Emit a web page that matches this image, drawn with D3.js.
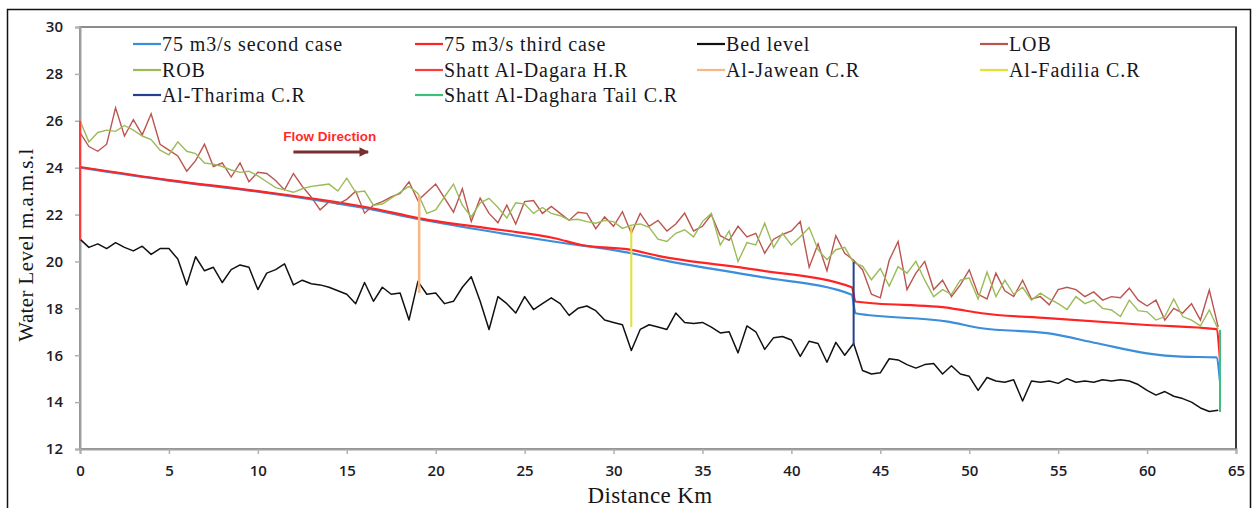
<!DOCTYPE html>
<html>
<head>
<meta charset="utf-8">
<script src="https://cdn.jsdelivr.net/npm/d3@7"></script>
<style>
  body { margin: 0; background: #fff; }
  svg { display: block; }
</style>
</head>
<body>
<div id="main"></div>
<script>
///////////
// DATA  //
///////////

// survey stations every 0.5 km (0 .. 64)
const stationKm = d3.range(0, 64.01, 0.5)

const bedLevel = [
  20.95, 20.6, 20.75, 20.55, 20.8, 20.6, 20.45, 20.65, 20.3, 20.55,
  20.55, 20.1, 19.0, 20.2, 19.6, 19.75, 19.1, 19.65, 19.85, 19.75,
  18.8, 19.5, 19.65, 19.9, 19.0, 19.2, 19.05, 19.0, 18.9, 18.75,
  18.6, 18.2, 19.1, 18.3, 18.9, 18.6, 18.65, 17.5, 19.15, 18.6,
  18.65, 18.2, 18.3, 18.9, 19.35, 18.3, 17.1, 18.5, 18.2, 17.8,
  18.5, 17.95, 18.2, 18.45, 18.2, 17.7, 18.0, 18.1, 17.9, 17.5,
  17.4, 17.3, 16.2, 17.1, 17.3, 17.2, 17.1, 17.8, 17.4, 17.35,
  17.4, 17.2, 16.95, 17.0, 16.1, 17.25, 17.0, 16.25, 16.75, 16.8,
  16.65, 15.95, 16.6, 16.5, 15.7, 16.55, 16.0, 16.5, 15.35, 15.2,
  15.25, 15.85, 15.8, 15.6, 15.45, 15.6, 15.65, 15.2, 15.55, 15.2,
  15.1, 14.5, 15.05, 14.9, 14.85, 14.95, 14.05, 14.9, 14.85, 14.9,
  14.8, 15.0, 14.85, 14.9, 14.85, 14.95, 14.9, 14.95, 14.9, 14.75,
  14.5, 14.3, 14.45, 14.25, 14.15, 14.0, 13.75, 13.6, 13.65
]

const lobLevel = [
  25.5, 24.9, 24.7, 25.0, 26.55, 25.35, 26.05, 25.4, 26.3, 25.0,
  24.75, 24.5, 23.85, 24.3, 25.0, 24.05, 24.2, 23.6, 24.2, 23.4,
  23.8, 23.75, 23.45, 23.05, 23.75, 23.2, 22.75, 22.2, 22.55, 22.45,
  22.65, 23.0, 22.06, 22.4, 22.55, 22.75, 22.9, 23.4, 22.6, 22.95,
  23.3, 22.7, 22.1, 23.1, 21.7, 22.7, 22.05, 21.65, 22.4, 21.6,
  22.55, 22.6, 22.05, 22.35, 22.05, 21.75, 22.1, 22.05, 21.4, 21.9,
  21.5, 22.12, 21.2, 22.05, 21.5, 21.75, 21.3, 21.6, 22.06, 21.3,
  21.5, 22.0, 21.1, 20.9, 21.5, 21.05, 21.2, 20.35, 20.95, 21.15,
  21.3, 21.7, 19.75, 20.75, 19.6, 21.1, 20.35, 20.05, 19.65, 18.6,
  18.45, 20.05, 20.85, 18.8, 19.5, 20.0, 18.8, 19.2, 18.5, 19.0,
  19.64, 18.6, 18.4, 19.5, 18.75, 18.5, 19.2, 18.4, 18.5, 18.15,
  18.8, 18.9, 18.8, 18.5, 18.7, 18.35, 18.5, 18.45, 18.86, 18.35,
  18.1, 18.35, 17.5, 18.0, 17.8, 18.2, 17.5, 18.78, 17.2
]

const robLevel = [
  26.0, 25.1, 25.5, 25.6, 25.55, 25.8, 25.6, 25.35, 25.2, 24.75,
  24.55, 25.1, 24.7, 24.6, 24.2, 24.15, 24.05, 23.9, 23.8, 23.85,
  23.65, 23.4, 23.15, 23.05, 22.95, 23.1, 23.2, 23.25, 23.3, 23.0,
  23.55, 22.95, 23.0, 22.4, 22.45, 22.7, 22.95, 23.2, 22.9, 22.05,
  22.2, 22.76, 23.3, 22.4, 21.9, 22.5, 22.69, 22.3, 21.85, 22.5,
  22.45, 22.05, 22.3, 22.05, 21.95, 21.77, 21.8, 21.7, 21.63, 21.75,
  21.7, 21.41, 21.55, 21.6, 21.45, 20.95, 20.85, 21.2, 21.35, 21.05,
  21.7, 22.05, 20.7, 21.3, 20.0, 20.8, 20.7, 21.63, 20.6, 21.2,
  20.7, 21.05, 21.45, 20.5, 20.07, 20.5, 20.6, 19.95, 19.8, 19.22,
  19.7, 18.95, 19.78, 19.5, 20.0, 19.2, 18.5, 18.8, 18.6, 19.2,
  19.3, 18.4, 19.55, 18.5, 19.2, 18.6, 18.9, 18.35, 18.65, 18.4,
  18.2, 17.95, 18.5, 18.2, 18.35, 18.0, 17.93, 17.65, 18.35, 17.9,
  17.85, 17.5, 17.65, 18.4, 17.65, 17.5, 17.25, 17.93, 17.1
]

// computed water surfaces
const secondKm = [0, 5, 10, 16.2, 19.1, 23.7, 26.7, 31, 32.5, 38.1, 43.4, 43.6, 48.8, 50.7, 54.4, 57.2, 60, 61.9, 63.9, 64.1]
const secondWL = [24.0, 23.45, 22.98, 22.25, 21.8, 21.2, 20.84, 20.35, 20.1, 19.36, 18.58, 17.79, 17.43, 17.15, 16.94, 16.51, 16.08, 15.94, 15.91, 14.88]

const thirdKm = [0, 5, 10, 16.2, 19.1, 23.7, 26.7, 28.2, 31, 32.5, 38.1, 43.4, 43.6, 49, 50.7, 54.4, 60, 63.9, 64.1]
const thirdWL = [24.03, 23.47, 23.0, 22.3, 21.84, 21.34, 20.99, 20.7, 20.49, 20.24, 19.64, 18.9, 18.29, 18.0, 17.79, 17.58, 17.29, 17.11, 15.8]

// regulators: station, bottom, top
const structNames = ["Shatt Al-Dagara H.R", "Al-Jawean C.R", "Al-Fadilia C.R", "Al-Tharima C.R", "Shatt Al-Daghara Tail C.R"]
const structKm = [0, 19.07, 31.0, 43.5, 64.1]
const structLow = [20.9, 18.66, 17.2, 16.44, 13.58]
const structHigh = [26.0, 22.84, 21.5, 19.98, 17.08]

const legendNames = [
  "75 m3/s second case", "75 m3/s third case", "Bed level", "LOB",
  "ROB", "Shatt Al-Dagara H.R", "Al-Jawean C.R", "Al-Fadilia C.R",
  "Al-Tharima C.R", "Shatt Al-Daghara Tail C.R"
]

const xTicks = d3.range(0, 66, 5)
const yTicks = d3.range(12, 31, 2)

///////////
// SETUP //
///////////

const width = 1252
const height = 508

const colors = {
  "75 m3/s second case": "#3a8edb",
  "75 m3/s third case": "#ff2424",
  "Bed level": "#111111",
  "LOB": "#bb5550",
  "ROB": "#9bbb59",
  "Shatt Al-Dagara H.R": "#ff3a3a",
  "Al-Jawean C.R": "#f6b888",
  "Al-Fadilia C.R": "#e2e232",
  "Al-Tharima C.R": "#25408f",
  "Shatt Al-Daghara Tail C.R": "#3cbf7a"
}

let x = d3.scaleLinear().domain([0, 65]).range([80, 1236])
let y = d3.scaleLinear().domain([12, 30]).range([449, 27])

let line = d3.line()
  .x(d => x(d[0]))
  .y(d => y(d[1]))

let smooth = d3.line()
  .x(d => x(d[0]))
  .y(d => y(d[1]))
  .curve(d3.curveMonotoneX)

//////////
// DRAW //
//////////

let svg = d3.select("#main").append("svg")
  .attr("width", width)
  .attr("height", height)

// outer frame
svg.append("path")
  .attr("d", "M7.5,508 V9.5 H1250.5 V508")
  .attr("fill", "none")
  .attr("stroke", "#111")
  .attr("stroke-width", 1.5)

// plot frame
svg.append("rect")
  .attr("x", x(0)).attr("y", y(30))
  .attr("width", x(65) - x(0)).attr("height", y(12) - y(30))
  .attr("fill", "none")
  .attr("stroke", "#8c8c8c")
  .attr("stroke-width", 2)
svg.append("line")
  .attr("x1", x(65)).attr("x2", x(65))
  .attr("y1", y(30)).attr("y2", y(12))
  .attr("stroke", "#3a3a3a")
  .attr("stroke-width", 2)

// axes
let yAxis = svg.append("g")
  .attr("transform", `translate(${x(0)},0)`)
  .call(d3.axisLeft(y).tickValues(yTicks).tickSize(5).tickPadding(12))
let xAxis = svg.append("g")
  .attr("transform", `translate(0,${y(12)})`)
  .call(d3.axisBottom(x).tickValues(xTicks).tickSize(5).tickPadding(11))

for (let ax of [yAxis, xAxis]) {
  ax.select(".domain").attr("stroke", "#a0a0a0").attr("stroke-width", 2)
  ax.selectAll(".tick line").attr("stroke", "#b0b0b0").attr("stroke-width", 1.5)
  ax.selectAll(".tick text")
    .attr("fill", "#1c1c28")
    .style("font-family", "'Open Sans', sans-serif")
    .style("font-size", "15px")
    .style("font-weight", "600")
}

// series
svg.append("path")
  .datum(d3.zip(secondKm, secondWL))
  .attr("d", smooth)
  .attr("fill", "none")
  .attr("stroke", colors["75 m3/s second case"])
  .attr("stroke-width", 2.2)

svg.append("path")
  .datum(d3.zip(thirdKm, thirdWL))
  .attr("d", smooth)
  .attr("fill", "none")
  .attr("stroke", colors["75 m3/s third case"])
  .attr("stroke-width", 2.2)

svg.append("path")
  .datum(d3.zip(stationKm, bedLevel))
  .attr("d", line)
  .attr("fill", "none")
  .attr("stroke", colors["Bed level"])
  .attr("stroke-width", 1.5)
  .attr("stroke-linejoin", "round")

svg.append("path")
  .datum(d3.zip(stationKm, lobLevel))
  .attr("d", line)
  .attr("fill", "none")
  .attr("stroke", colors["LOB"])
  .attr("stroke-width", 1.4)

svg.append("path")
  .datum(d3.zip(stationKm, robLevel))
  .attr("d", line)
  .attr("fill", "none")
  .attr("stroke", colors["ROB"])
  .attr("stroke-width", 1.4)

// regulators
svg.selectAll("line.structure")
  .data(structNames)
  .enter().append("line")
    .attr("class", "structure")
    .attr("x1", (d, i) => x(structKm[i]))
    .attr("x2", (d, i) => x(structKm[i]))
    .attr("y1", (d, i) => y(structLow[i]))
    .attr("y2", (d, i) => y(structHigh[i]))
    .attr("stroke", d => colors[d])
    .attr("stroke-width", (d, i) => i == 1 ? 2.6 : 2)

// flow direction note
svg.append("defs").append("marker")
  .attr("id", "head")
  .attr("viewBox", "0 0 10 10")
  .attr("refX", 9).attr("refY", 5)
  .attr("markerWidth", 3.2).attr("markerHeight", 3.2)
  .attr("orient", "auto")
  .append("path")
    .attr("d", "M0,0 L10,5 L0,10 z")
    .attr("fill", "#7a2e2e")

svg.append("line")
  .attr("x1", x(12)).attr("x2", x(16.2))
  .attr("y1", y(24.67)).attr("y2", y(24.67))
  .attr("stroke", "#7a2e2e")
  .attr("stroke-width", 3)
  .attr("marker-end", "url(#head)")

svg.append("text")
  .attr("x", x(14.05)).attr("y", y(25.31))
  .attr("text-anchor", "middle")
  .attr("dominant-baseline", "middle")
  .attr("fill", "#ff2b2b")
  .style("font-family", "'Liberation Sans', Arial, sans-serif")
  .style("font-size", "13.5px")
  .style("font-weight", "bold")
  .text("Flow Direction")

// legend
const legendCols = [133, 415, 697, 980]
const legendRows = [44, 70, 95]

let legend = svg.selectAll("g.legend-item")
  .data(legendNames)
  .enter().append("g")
    .attr("class", "legend-item")
    .attr("transform", (d, i) => `translate(${legendCols[i % 4]},${legendRows[Math.floor(i / 4)]})`)

legend.append("line")
  .attr("x1", 0).attr("x2", 28)
  .attr("stroke", d => colors[d])
  .attr("stroke-width", 2.2)

legend.append("text")
  .attr("x", 29)
  .attr("dy", "0.33em")
  .attr("fill", "#161622")
  .style("font-family", "'Liberation Serif', 'Times New Roman', serif")
  .style("font-size", "20px")
  .style("letter-spacing", "0.9px")
  .text(d => d)

// axis titles
svg.append("text")
  .attr("transform", "translate(33,245) rotate(-90)")
  .attr("text-anchor", "middle")
  .attr("fill", "#161616")
  .style("font-family", "'Liberation Serif', 'Times New Roman', serif")
  .style("font-size", "21px")
  .style("letter-spacing", "0.4px")
  .text("Water Level m.a.m.s.l")

svg.append("text")
  .attr("x", 650).attr("y", 503)
  .attr("text-anchor", "middle")
  .attr("fill", "#161616")
  .style("font-family", "'Liberation Serif', 'Times New Roman', serif")
  .style("font-size", "23px")
  .style("letter-spacing", "0.4px")
  .text("Distance Km")
</script>
</body>
</html>
